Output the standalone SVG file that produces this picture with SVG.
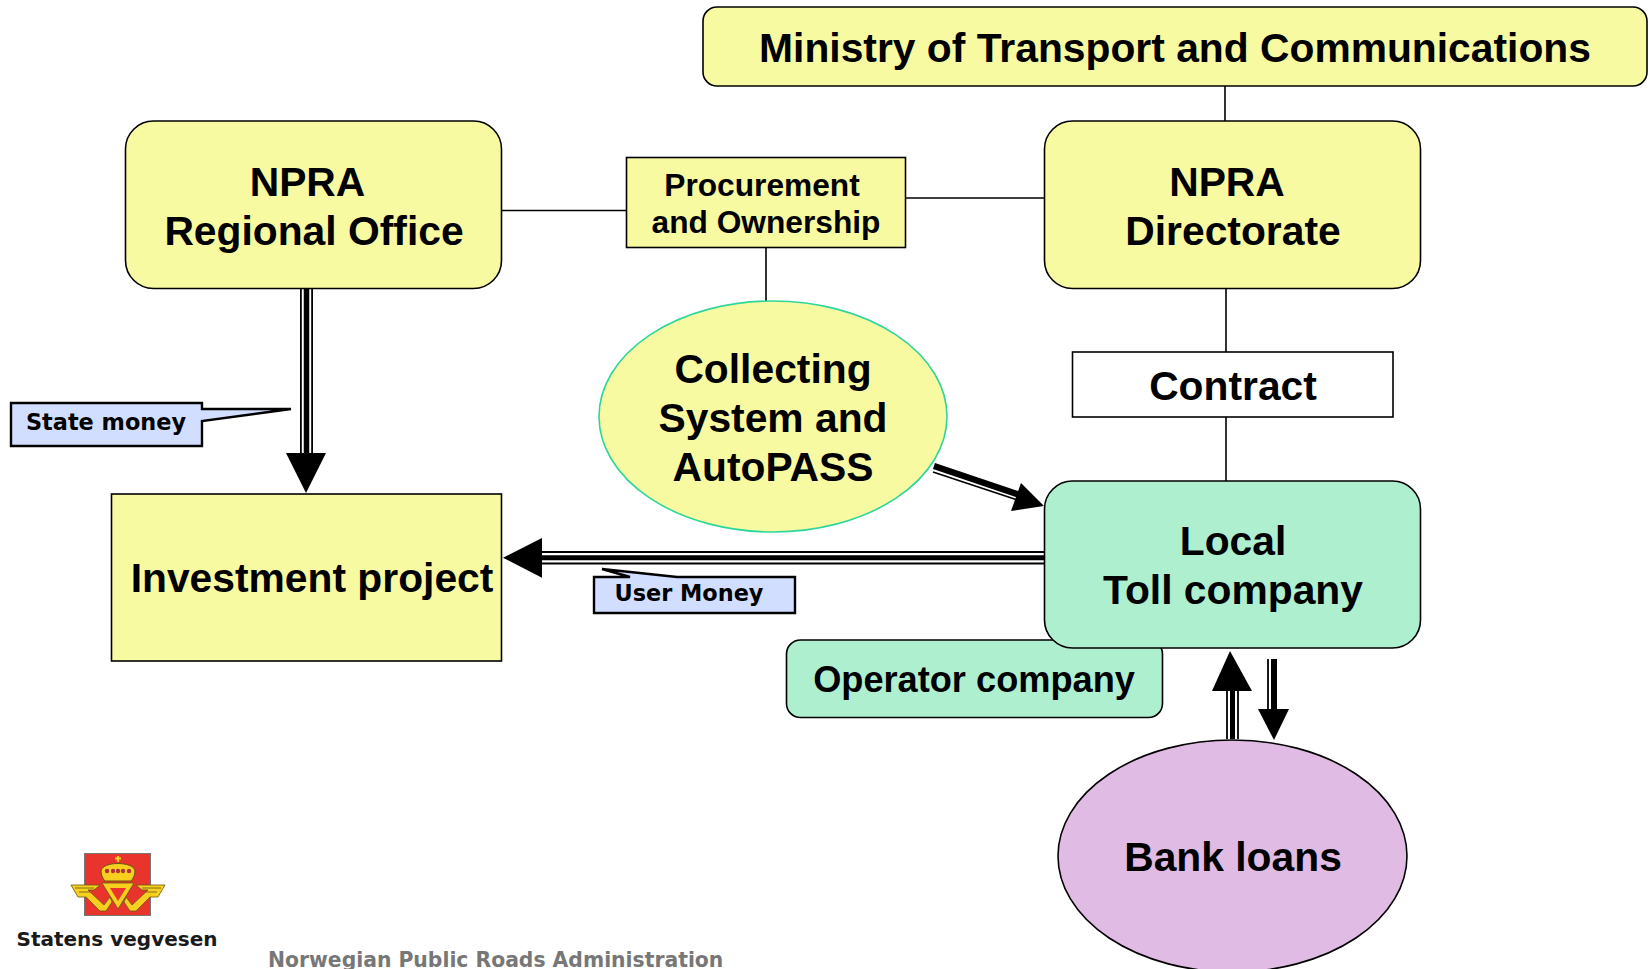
<svg xmlns="http://www.w3.org/2000/svg" width="1650" height="969" viewBox="0 0 1650 969">
<style>
.y{fill:#f8faa2;stroke:#000;stroke-width:1.6}
.m{fill:#aeefd0;stroke:#000;stroke-width:1.6}
.c{fill:#d2deff;stroke:#000;stroke-width:2.4}
.t{font-family:"Liberation Sans",Arial,sans-serif;font-weight:700;fill:#000;text-anchor:middle;font-size:40.800px}
.s{font-size:31.700px}
.v{font-family:"DejaVu Sans",Verdana,sans-serif;font-weight:700;text-anchor:middle;fill:#000;font-size:22.400px}
.l{stroke:#000;stroke-width:1.6;fill:none}
.b{stroke:#000;fill:none}
.h{fill:#000}
.g{fill:#f6cf1f;stroke:#6a5512;stroke-width:.8}
</style>
<g id="connectors">
<path class="l" d="M1225 86V121M501 210.500H626M906 198H1044M766 248V301M1226 288V352M1226 417V481"/>
<path class="b" stroke-width="1.800" d="M300.900 288V455M312.100 288V455"/>
<path class="b" stroke-width="5.500" d="M306.500 288V455"/>
<path class="h" d="M286 453H326L306 493Z"/>
<path class="b" stroke-width="2.200" d="M540 552H1044M540 563.500H1044"/>
<path class="b" stroke-width="5" d="M540 557.700H1044"/>
<path class="h" d="M503 557.700L542 538V577.700Z"/>
<path class="b" stroke-width="6.500" d="M934 466L1020 495"/>
<path class="b" stroke-width="1.800" d="M933 472L1016 499.500"/>
<path class="h" d="M1044 506L1021 483L1011 511Z"/>
<path class="b" stroke-width="1.800" d="M1227 689V739M1238 689V739"/>
<path class="b" stroke-width="5" d="M1232.500 689V739"/>
<path class="h" d="M1230 651L1252 691H1212Z"/>
<path class="b" stroke-width="1.800" d="M1268 659V711"/>
<path class="b" stroke-width="6" d="M1274 659V711"/>
<path class="h" d="M1274 740L1258 709H1289Z"/>
</g>
<g id="ministry"><rect class="y" x="703" y="7" width="944" height="79" rx="14"/><text class="t" x="1175" y="62">Ministry of Transport and Communications</text></g>
<g id="npra-regional"><rect class="y" x="125.500" y="121" width="376" height="167.500" rx="28"/><text class="t" x="307.500" y="196">NPRA</text><text class="t" x="314" y="245">Regional Office</text></g>
<g id="procurement"><rect class="y" x="626.500" y="157.500" width="279" height="90"/><text class="t s" x="762" y="196">Procurement</text><text class="t s" x="766" y="233">and Ownership</text></g>
<g id="npra-directorate"><rect class="y" x="1044.500" y="121" width="376" height="167.500" rx="28"/><text class="t" x="1227" y="196">NPRA</text><text class="t" x="1233" y="245">Directorate</text></g>
<g id="collecting"><ellipse cx="773" cy="416.500" rx="174" ry="115.500" fill="#f8faa2" stroke="#2fd69b" stroke-width="1.600"/><text class="t" x="773" y="383">Collecting</text><text class="t" x="773" y="432">System and</text><text class="t" x="773" y="481">AutoPASS</text></g>
<g id="contract"><rect x="1072.500" y="352" width="320.500" height="65" fill="#fff" stroke="#000" stroke-width="1.600"/><text class="t" x="1233" y="400">Contract</text></g>
<g id="operator"><rect class="m" x="786.500" y="640" width="376" height="77.500" rx="14"/><text class="t" style="font-size:36.200px" x="974" y="692">Operator company</text></g>
<g id="toll"><rect class="m" x="1044.500" y="481" width="376" height="167" rx="28"/><text class="t" x="1233" y="555">Local</text><text class="t" x="1233" y="604">Toll company</text></g>
<g id="investment"><rect class="y" x="111.500" y="494" width="390" height="167"/><text class="t" x="312" y="592">Investment project</text></g>
<g id="bank"><ellipse cx="1232.500" cy="856" rx="174.500" ry="116" fill="#e0bbe4" stroke="#000" stroke-width="1.600"/><text class="t" x="1233" y="871">Bank loans</text></g>
<g id="state-money"><path class="c" d="M11 403H202V409H291L202 421V446H11Z"/><text class="v" x="106" y="430">State money</text></g>
<g id="user-money"><path class="c" d="M594 577H630L602 569L677 577H795V613H594Z"/><text class="v" x="689" y="601">User Money</text></g>
<g id="logo">
<rect x="84.500" y="853.500" width="66" height="62" fill="#e8342d" stroke="#777" stroke-width="1"/>
<path d="M118 856V862M115 858.500H121" stroke="#f6cf1f" stroke-width="2.200"/>
<path d="M101 871C102 861 134 861 135 871C135 875 133 879 131 881H105C103 879 101 875 101 871Z" fill="#f6cf1f" stroke="#6a5512"/>
<circle cx="107" cy="871" r="2.200" fill="#b5303a"/><circle cx="113" cy="871" r="2.200" fill="#b5303a"/><circle cx="118" cy="871" r="2.200" fill="#b5303a"/><circle cx="123" cy="871" r="2.200" fill="#b5303a"/><circle cx="129" cy="871" r="2.200" fill="#b5303a"/>
<path class="g" d="M102 883H134L118 909Z"/>
<path d="M110 888H126L118 901Z" fill="#e8342d"/>
<path class="g" d="M71 885H100L94 890H88L104 905L110 897L112 902L106 911H100L86 897H78Z"/>
<path class="g" d="M165 885H136L142 890H148L132 905L126 897L124 902L130 911H136L150 897H158Z"/>
<path d="M75 888H94M79 892H90M161 888H142M157 892H146" stroke="#6a5512" stroke-width=".8"/>
</g>
<text x="117" y="946" style="font-family:'DejaVu Sans',sans-serif;font-weight:700;font-size:20px;text-anchor:middle;fill:#1a1a1a">Statens vegvesen</text>
<text x="268" y="967" style="font-family:'DejaVu Sans',sans-serif;font-weight:700;font-size:20.350px;fill:#777">Norwegian Public Roads Administration</text>
</svg>
